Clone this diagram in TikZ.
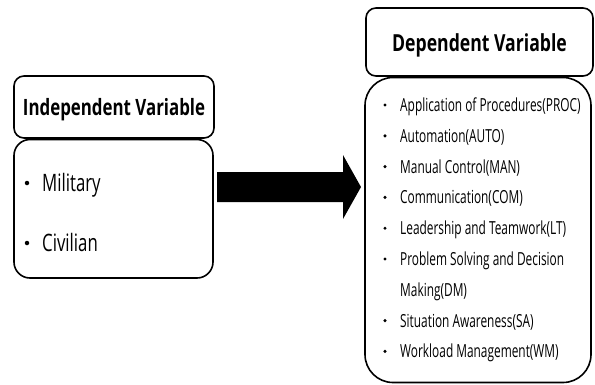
\documentclass[tikz,border=0pt]{standalone}
\usepackage{fontspec}
\setmainfont{Open Sans}
\newfontfamily\headfont[FakeStretch=0.75]{Open Sans}
\newfontfamily\itemfont[FakeStretch=0.66]{Open Sans}
\newfontfamily\bigitemfont[FakeStretch=0.7]{Open Sans}
\begin{document}
\begin{tikzpicture}[x=1pt,y=-1pt,
  boxline/.style={draw=black,line width=1.6pt,fill=white},
  headbox/.style={boxline,rounded corners=10pt},
  headtext/.style={font=\headfont\bfseries\fontsize{22.5}{26}\selectfont,anchor=base,inner sep=0pt},
  bigitem/.style={font=\bigitemfont\fontsize{24}{28}\selectfont,anchor=base west,inner sep=0pt},
  item/.style={font=\itemfont\fontsize{18}{22}\selectfont,anchor=base west,inner sep=0pt},
  dot/.style={circle,fill=black,inner sep=0pt,minimum size=4.5pt},
  smalldot/.style={dot,minimum size=3.4pt}]
\useasboundingbox (0,0) rectangle (595,384);
\fill[white] (0,0) rectangle (595,384);

% left side: independent variable
\draw[headbox] (14,76) rectangle (214,138);
\node[headtext] (ihead) at (114,115) {Independent Variable};
\draw[boxline,rounded corners=16pt] (14,139.5) rectangle (213,278);
\node[dot] (ib1) at (27,183) {};
\node[bigitem] (mil) at (42,191.5) {Military};
\node[dot] (ib2) at (27,243) {};
\node[bigitem] (civ) at (42,251.5) {Civilian};

% right side: dependent variable
\draw[headbox] (366,8) rectangle (593,76);
\node[headtext,font=\headfont\bfseries\fontsize{23.5}{27}\selectfont] (dhead) at (479.5,51.5) {Dependent Variable};
\draw[boxline,rounded corners=28pt] (365,77.5) rectangle (591,382.5);

\foreach \k/\t/\b in {0/Application of Procedures(PROC)/1,
                      1/Automation(AUTO)/1,
                      2/Manual Control(MAN)/1,
                      3/Communication(COM)/1,
                      4/Leadership and Teamwork(LT)/1,
                      5/Problem Solving and Decision/1,
                      6/Making(DM)/0,
                      7/Situation Awareness(SA)/1,
                      8/Workload Management(WM)/1}{
  \pgfmathsetmacro\yc{105+30.8*\k}
  \ifnum\b=1 \node[smalldot] at (385,\yc) {};\fi
  \node[item] at (400,\yc+6.5) {\t};
}

% block arrow from independent to dependent
\fill[black] (217,172) -- (343,172) -- (343,155) -- (361,187) -- (343,219) -- (343,202) -- (217,202) -- cycle;
\end{tikzpicture}
\end{document}
